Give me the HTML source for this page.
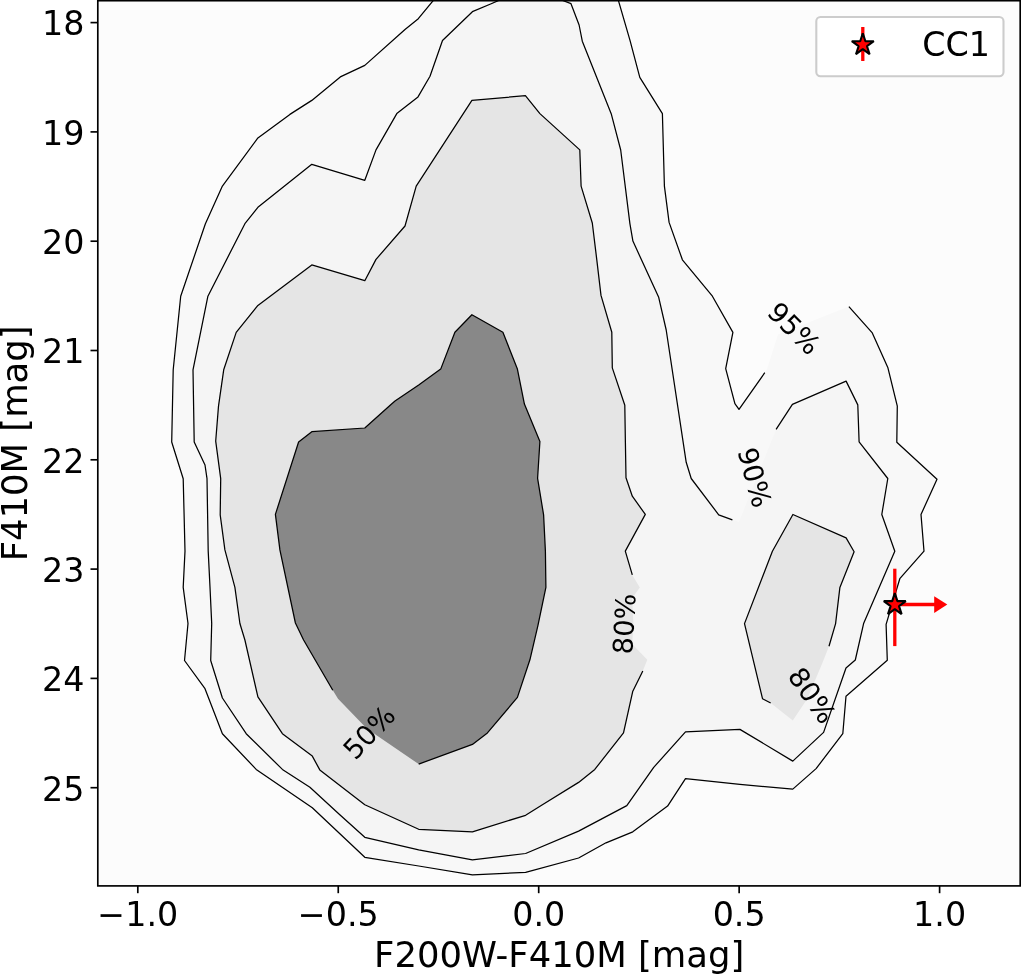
<!DOCTYPE html>
<html lang="en">
<head>
<meta charset="utf-8">
<title>F410M vs F200W-F410M contour plot</title>
<style>
html,body{margin:0;padding:0;background:#fff;}
body{width:1021px;height:974px;overflow:hidden;}
svg{display:block;}
text{font-family:"DejaVu Sans","Liberation Sans",sans-serif;fill:#000;}
.tk{font-size:33.33px;}
.al{font-size:35.4px;}
.cl{font-size:27.3px;text-anchor:middle;}
.ct{fill:none;stroke:#000;stroke-width:1.25;stroke-linejoin:round;stroke-linecap:butt;}
</style>
</head>
<body>
<svg width="1021" height="974" viewBox="0 0 1021 974">
<rect x="0" y="0" width="1021" height="974" fill="#ffffff"/>
<clipPath id="ax"><rect x="97.8" y="0.7" width="922.4" height="885.2"/></clipPath>
<g clip-path="url(#ax)">
<rect x="97.8" y="0.7" width="922.4" height="885.2" fill="#fcfcfc"/>
<polygon points="437.8,-5.0 418.3,18.7 405.0,29.5 364.8,65.4 340.3,76.9 311.8,100.4 289.9,114.4 257.9,137.9 222.4,186.1 205.4,223.7 180.7,296.2 173.2,369.8 171.7,442.0 183.2,478.7 185.0,551.1 183.2,587.3 188.0,623.5 184.5,660.5 205.0,688.7 222.4,733.7 256.2,769.4 312.3,807.8 364.8,857.3 418.7,866.0 472.4,874.8 525.6,872.3 578.6,858.0 606.0,842.8 632.8,831.8 667.6,806.1 685.5,778.6 739.9,784.4 792.8,789.1 816.1,768.6 842.8,733.7 846.0,696.2 887.3,660.3 886.1,624.4 899.8,578.7 924.0,551.2 921.0,514.5 937.0,479.3 896.8,442.3 897.3,406.1 887.8,367.4 872.3,332.9 848.9,306.6 778.0,334.5 766.9,369.5 764.8,372.7 739.0,409.4 734.9,403.6 725.7,368.7 732.9,332.4 712.4,296.2 682.4,259.8 669.1,222.4 664.4,186.2 662.4,113.7 639.8,77.4 630.0,40.3 616.8,-5.0" fill="#f8f8f8"/>
<polygon points="511.3,-5.0 491.2,3.7 472.4,11.7 442.5,40.5 430.0,76.2 418.0,96.9 396.8,113.6 376.0,149.9 364.8,180.3 311.8,164.3 257.9,207.3 244.9,223.7 207.9,296.2 193.0,369.8 194.2,442.0 205.0,465.0 207.0,478.7 208.2,551.1 210.0,587.3 211.7,623.5 210.7,660.5 222.4,698.0 246.2,733.7 282.4,769.4 309.9,787.3 339.8,814.8 364.8,837.3 418.7,849.8 472.4,859.8 525.6,853.5 578.6,831.1 626.8,805.6 653.7,767.4 685.5,731.9 739.9,729.4 792.8,761.1 823.6,732.4 846.0,668.0 855.3,660.0 863.6,623.6 894.8,551.2 881.8,514.5 887.8,478.5 859.1,441.8 857.8,404.9 846.1,381.1 792.4,404.4 776.1,429.4 739.0,522.0 732.4,519.8 718.7,514.8 691.2,478.5 686.2,462.3 666.2,330.0 658.7,297.3 632.9,241.1 629.9,223.6 620.7,150.0 611.2,113.7 582.3,41.2 579.1,25.0 571.0,3.7 548.8,-5.0" fill="#f5f5f5"/>
<polygon points="405.0,226.0 416.2,186.1 471.9,100.4 525.4,95.7 539.9,113.6 579.8,149.9 581.1,186.1 592.3,223.0 596.8,259.8 601.0,295.4 611.8,332.2 612.3,367.9 624.8,405.3 625.4,442.7 626.0,477.8 632.3,496.2 645.3,514.4 625.3,551.1 632.3,574.9 639.8,587.4 632.1,598.2 633.5,625.6 632.1,644.0 647.3,659.8 642.8,671.0 632.8,691.2 623.5,732.9 594.8,769.4 578.6,782.4 542.4,804.8 525.6,815.3 472.4,831.8 418.7,829.3 364.8,804.8 319.8,769.9 312.3,756.1 282.4,733.7 257.9,696.9 244.9,640.0 239.9,623.5 234.9,587.3 224.9,549.9 220.2,514.9 220.7,478.7 215.7,441.2 218.5,406.1 223.7,369.8 236.2,332.4 257.9,305.4 311.8,264.9 364.8,280.7 376.0,259.4" fill="#e5e5e5"/>
<polygon points="792.9,514.5 846.1,537.9 854.1,551.7 839.9,587.4 835.6,623.6 829.0,646.2 822.7,662.2 807.3,698.7 792.8,720.4 770.7,703.0 762.5,698.7 744.5,623.6 772.4,551.2" fill="#e5e5e5"/>
<polygon points="395.0,401.1 418.7,384.9 440.7,369.1 454.9,332.2 471.9,314.7 502.9,332.2 517.4,369.1 524.4,404.1 539.9,441.5 537.6,478.3 543.6,514.9 545.4,551.1 545.9,587.4 537.9,625.6 529.9,659.8 517.4,697.4 487.4,732.9 472.4,744.4 418.7,764.1 376.5,735.3 364.8,726.5 338.0,698.7 332.8,690.3 303.6,640.0 295.4,623.0 279.9,549.9 275.4,514.4 298.6,442.0 311.8,431.7 364.8,428.0 391.0,404.5" fill="#888888"/>
<polyline class="ct" points="437.8,-5.0 418.3,18.7 405.0,29.5 364.8,65.4 340.3,76.9 311.8,100.4 289.9,114.4 257.9,137.9 222.4,186.1 205.4,223.7 180.7,296.2 173.2,369.8 171.7,442.0 183.2,478.7 185.0,551.1 183.2,587.3 188.0,623.5 184.5,660.5 205.0,688.7 222.4,733.7 256.2,769.4 312.3,807.8 364.8,857.3 418.7,866.0 472.4,874.8 525.6,872.3 578.6,858.0 606.0,842.8 632.8,831.8 667.6,806.1 685.5,778.6 739.9,784.4 792.8,789.1 816.1,768.6 842.8,733.7 846.0,696.2 887.3,660.3 886.1,624.4 899.8,578.7 924.0,551.2 921.0,514.5 937.0,479.3 896.8,442.3 897.3,406.1 887.8,367.4 872.3,332.9 848.9,306.6"/>
<polyline class="ct" points="764.8,372.7 739.0,409.4 734.9,403.6 725.7,368.7 732.9,332.4 712.4,296.2 682.4,259.8 669.1,222.4 664.4,186.2 662.4,113.7 639.8,77.4 630.0,40.3 616.8,-5.0"/>
<polyline class="ct" points="511.3,-5.0 491.2,3.7 472.4,11.7 442.5,40.5 430.0,76.2 418.0,96.9 396.8,113.6 376.0,149.9 364.8,180.3 311.8,164.3 257.9,207.3 244.9,223.7 207.9,296.2 193.0,369.8 194.2,442.0 205.0,465.0 207.0,478.7 208.2,551.1 210.0,587.3 211.7,623.5 210.7,660.5 222.4,698.0 246.2,733.7 282.4,769.4 309.9,787.3 339.8,814.8 364.8,837.3 418.7,849.8 472.4,859.8 525.6,853.5 578.6,831.1 626.8,805.6 653.7,767.4 685.5,731.9 739.9,729.4 792.8,761.1 823.6,732.4 846.0,668.0 855.3,660.0 863.6,623.6 894.8,551.2 881.8,514.5 887.8,478.5 859.1,441.8 857.8,404.9 846.1,381.1 792.4,404.4 776.1,429.4"/>
<polyline class="ct" points="732.4,519.8 718.7,514.8 691.2,478.5 686.2,462.3 666.2,330.0 658.7,297.3 632.9,241.1 629.9,223.6 620.7,150.0 611.2,113.7 582.3,41.2 579.1,25.0 571.0,3.7 548.8,-5.0"/>
<polyline class="ct" points="642.8,671.0 632.8,691.2 623.5,732.9 594.8,769.4 578.6,782.4 542.4,804.8 525.6,815.3 472.4,831.8 418.7,829.3 364.8,804.8 319.8,769.9 312.3,756.1 282.4,733.7 257.9,696.9 244.9,640.0 239.9,623.5 234.9,587.3 224.9,549.9 220.2,514.9 220.7,478.7 215.7,441.2 218.5,406.1 223.7,369.8 236.2,332.4 257.9,305.4 311.8,264.9 364.8,280.7 376.0,259.4 405.0,226.0 416.2,186.1 471.9,100.4 525.4,95.7 539.9,113.6 579.8,149.9 581.1,186.1 592.3,223.0 596.8,259.8 601.0,295.4 611.8,332.2 612.3,367.9 624.8,405.3 625.4,442.7 626.0,477.8 632.3,496.2 645.3,514.4 625.3,551.1 632.3,574.9"/>
<polyline class="ct" points="770.7,703.0 762.5,698.7 744.5,623.6 772.4,551.2 792.9,514.5 846.1,537.9 854.1,551.7 839.9,587.4 835.6,623.6 829.0,646.2"/>
<polyline class="ct" points="332.8,690.3 303.6,640.0 295.4,623.0 279.9,549.9 275.4,514.4 298.6,442.0 311.8,431.7 364.8,428.0 391.0,404.5 395.0,401.1 418.7,384.9 440.7,369.1 454.9,332.2 471.9,314.7 502.9,332.2 517.4,369.1 524.4,404.1 539.9,441.5 537.6,478.3 543.6,514.9 545.4,551.1 545.9,587.4 537.9,625.6 529.9,659.8 517.4,697.4 487.4,732.9 472.4,744.4 418.7,764.1"/>
<text class="cl" transform="translate(369.0,732.1) rotate(-46.5)" y="9.95">50%</text>
<text class="cl" transform="translate(624.0,623.9) rotate(-87)" y="9.95">80%</text>
<text class="cl" transform="translate(812.4,695.1) rotate(55)" y="9.95">80%</text>
<text class="cl" transform="translate(754.9,477.3) rotate(74.5)" y="9.95">90%</text>
<text class="cl" transform="translate(794.3,328.2) rotate(45)" y="9.95">95%</text>
<line x1="894.8" y1="568.7" x2="894.8" y2="646.1" stroke="#ff0000" stroke-width="3.3"/>
<line x1="894.8" y1="604.5500000000001" x2="936" y2="604.5500000000001" stroke="#ff0000" stroke-width="3.6"/>
<polygon points="934.2,596.1500000000001 947.3,604.5500000000001 934.2,612.95" fill="#ff0000"/>
<polygon points="894.8,593.1 897.4,601.1 905.8,601.1 899.0,606.1 901.6,614.1 894.8,609.1 888.0,614.1 890.6,606.1 883.8,601.1 892.2,601.1" fill="#ff0000" stroke="#000" stroke-width="2.1" stroke-linejoin="bevel"/>
</g>
<rect x="97.8" y="0.7" width="922.4" height="885.2" fill="none" stroke="#000" stroke-width="1.67"/>
<line x1="137.80" y1="885.9" x2="137.80" y2="893.2" stroke="#000" stroke-width="1.67"/>
<text class="tk" x="137.80" y="925.8" text-anchor="middle">−1.0</text>
<line x1="338.25" y1="885.9" x2="338.25" y2="893.2" stroke="#000" stroke-width="1.67"/>
<text class="tk" x="338.25" y="925.8" text-anchor="middle">−0.5</text>
<line x1="538.70" y1="885.9" x2="538.70" y2="893.2" stroke="#000" stroke-width="1.67"/>
<text class="tk" x="538.70" y="925.8" text-anchor="middle">0.0</text>
<line x1="739.15" y1="885.9" x2="739.15" y2="893.2" stroke="#000" stroke-width="1.67"/>
<text class="tk" x="739.15" y="925.8" text-anchor="middle">0.5</text>
<line x1="939.60" y1="885.9" x2="939.60" y2="893.2" stroke="#000" stroke-width="1.67"/>
<text class="tk" x="939.60" y="925.8" text-anchor="middle">1.0</text>
<line x1="97.8" y1="22.60" x2="90.5" y2="22.60" stroke="#000" stroke-width="1.67"/>
<text class="tk" x="84.4" y="35.40" text-anchor="end">18</text>
<line x1="97.8" y1="131.90" x2="90.5" y2="131.90" stroke="#000" stroke-width="1.67"/>
<text class="tk" x="84.4" y="144.70" text-anchor="end">19</text>
<line x1="97.8" y1="241.20" x2="90.5" y2="241.20" stroke="#000" stroke-width="1.67"/>
<text class="tk" x="84.4" y="254.00" text-anchor="end">20</text>
<line x1="97.8" y1="350.50" x2="90.5" y2="350.50" stroke="#000" stroke-width="1.67"/>
<text class="tk" x="84.4" y="363.30" text-anchor="end">21</text>
<line x1="97.8" y1="459.80" x2="90.5" y2="459.80" stroke="#000" stroke-width="1.67"/>
<text class="tk" x="84.4" y="472.60" text-anchor="end">22</text>
<line x1="97.8" y1="569.10" x2="90.5" y2="569.10" stroke="#000" stroke-width="1.67"/>
<text class="tk" x="84.4" y="581.90" text-anchor="end">23</text>
<line x1="97.8" y1="678.40" x2="90.5" y2="678.40" stroke="#000" stroke-width="1.67"/>
<text class="tk" x="84.4" y="691.20" text-anchor="end">24</text>
<line x1="97.8" y1="787.70" x2="90.5" y2="787.70" stroke="#000" stroke-width="1.67"/>
<text class="tk" x="84.4" y="800.50" text-anchor="end">25</text>
<text class="al" x="559.2" y="966.7" text-anchor="middle">F200W-F410M [mag]</text>
<text class="al" transform="translate(27.1,443.4) rotate(-90)" text-anchor="middle">F410M [mag]</text>
<rect x="816.3" y="17" width="187.2" height="59.2" rx="4.2" ry="4.2" fill="#ffffff" fill-opacity="0.8" stroke="#cccccc" stroke-width="2.1"/>
<line x1="862.8" y1="27" x2="862.8" y2="61" stroke="#ff0000" stroke-width="3.3"/>
<polygon points="862.8,33.2 865.4,41.2 873.8,41.2 867.0,46.2 869.6,54.2 862.8,49.2 856.0,54.2 858.6,46.2 851.8,41.2 860.2,41.2" fill="#ff0000" stroke="#000" stroke-width="2.1" stroke-linejoin="bevel"/>
<text class="tk" x="922.2" y="55.8">CC1</text>
</svg>
</body>
</html>
